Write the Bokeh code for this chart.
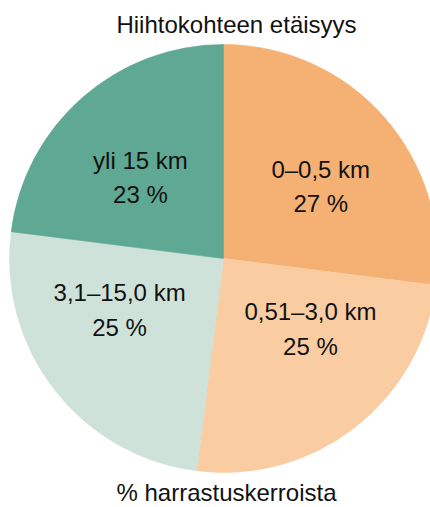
import math
from bokeh.plotting import figure
from bokeh.models import ColumnDataSource, Range1d
from bokeh.core.properties import value
from bokeh.embed import file_html
from bokeh.resources import INLINE

# ---- data ----
categories = ["0–0,5 km", "0,51–3,0 km", "3,1–15,0 km", "yli 15 km"]
percents = [27, 25, 25, 23]
colors = ["#F5B073", "#FACCA1", "#CEE2D9", "#5FA893"]
title_text = "Hiihtokohteen etäisyys"
footer_text = "% harrastuskerroista"

# ---- layout (pixel scale: 214 px per unit radius) ----
PX = 214.0
W, H = 430, 507
cx_px, cy_px = 223, 258  # pie centre inside the figure
x0 = -cx_px / PX
x1 = (W - cx_px) / PX
y1 = cy_px / PX
y0 = -(H - cy_px) / PX

TXT_SHIFT = 9.5 / PX  # correction for rendered baseline position

label_angle_deg = [57.3, 132.6, 239.6, 310.7]
label_r = [0.54, 0.552, 0.563, 0.512]
line_gap = 17.2 / PX

total = float(sum(percents))
starts, ends = [], []
cum = 0.0
for v in percents:
    s = math.pi / 2 - 2 * math.pi * cum / total
    cum += v
    e = math.pi / 2 - 2 * math.pi * cum / total
    starts.append(s)
    ends.append(e)

src = ColumnDataSource(dict(start=starts, end=ends, color=colors,
                            x=[0] * len(percents), y=[0] * len(percents)))

p = figure(width=W, height=H, x_range=Range1d(x0, x1), y_range=Range1d(y0, y1),
           output_backend="svg", toolbar_location=None, min_border=0,
           background_fill_color="white", border_fill_color="white")
p.axis.visible = False
p.grid.visible = False
p.outline_line_color = None

p.wedge(x="x", y="y", radius=1.0, start_angle="start", end_angle="end",
        direction="clock", fill_color="color", line_color="color",
        line_width=0.6, source=src)

lx, ly1, ly2, l1, l2 = [], [], [], [], []
for cat, v, a, r in zip(categories, percents, label_angle_deg, label_r):
    th = math.radians(a)
    x = r * math.sin(th)
    y = r * math.cos(th) + TXT_SHIFT
    lx.append(x)
    ly1.append(y + line_gap)
    ly2.append(y - line_gap)
    l1.append(cat)
    l2.append(f"{v} %")

font = value("Liberation Sans")
p.text(x=lx, y=ly1, text=l1, text_align="center", text_baseline="alphabetic",
       text_font=font, text_font_size="24px", text_color="#111111")
p.text(x=lx, y=ly2, text=l2, text_align="center", text_baseline="alphabetic",
       text_font=font, text_font_size="24px", text_color="#111111")

p.text(x=[13 / PX], y=[(258 - 33) / PX + TXT_SHIFT], text=[title_text],
       text_align="center", text_baseline="alphabetic", text_font=font,
       text_font_size="24px", text_color="#111111")
p.text(x=[3 / PX], y=[(258 - 501) / PX + TXT_SHIFT], text=[footer_text],
       text_align="center", text_baseline="alphabetic", text_font=font,
       text_font_size="24px", text_color="#111111")

open("out.html", "w").write(file_html(p, INLINE))
